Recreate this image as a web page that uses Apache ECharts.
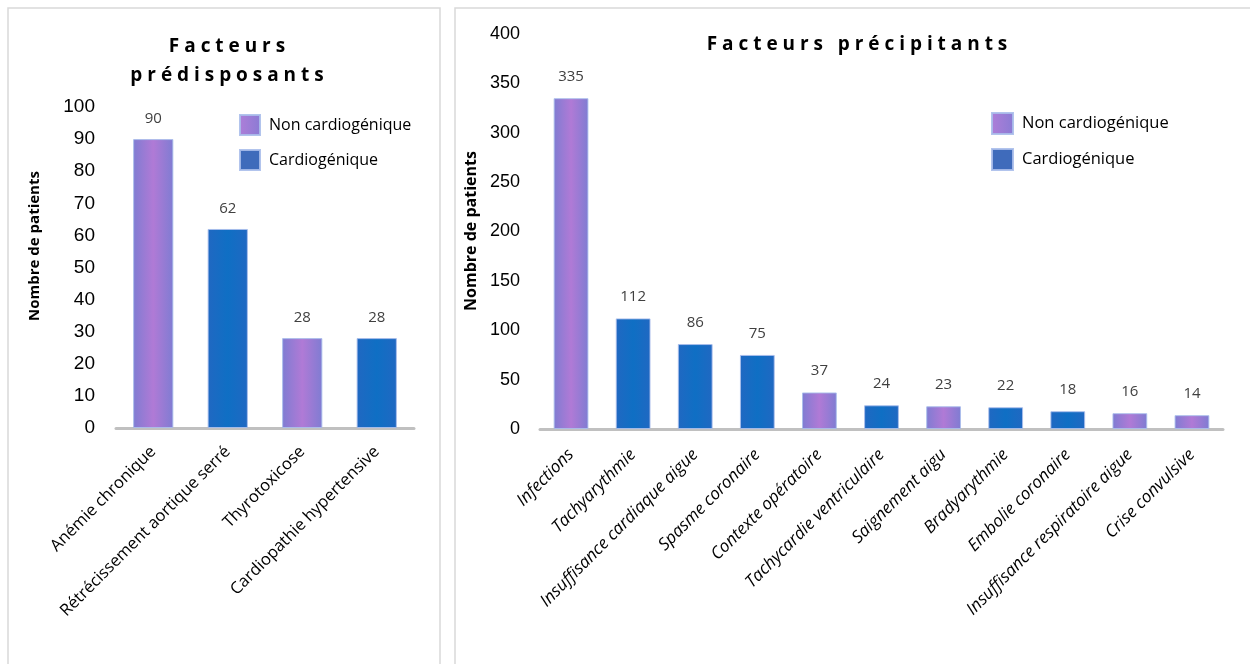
<!DOCTYPE html>
<html>
<head>
<meta charset="utf-8">
<script src="https://cdn.jsdelivr.net/npm/echarts@6/dist/echarts.min.js"></script>
<style>
html,body{margin:0;padding:0;background:#fff;}
#c{width:1250px;height:664px;}
</style>
</head>
<body>
<div id="c"></div>
<script>
// ---- Data ----
const leftCategories = ['Anémie chronique', 'Rétrécissement aortique serré', 'Thyrotoxicose', 'Cardiopathie hypertensive'];
const leftValues = [90, 62, 28, 28];
const leftTypes = ['N', 'C', 'N', 'C'];

const rightCategories = ['Infections', 'Tachyarythmie', 'Insuffisance cardiaque aigue', 'Spasme coronaire', 'Contexte opératoire', 'Tachycardie ventriculaire', 'Saignement aigu', 'Bradyarythmie', 'Embolie coronaire', 'Insuffisance respiratoire aigue', 'Crise convulsive'];
const rightValues = [335, 112, 86, 75, 37, 24, 23, 22, 18, 16, 14];
const rightTypes = ['N', 'C', 'C', 'C', 'N', 'C', 'N', 'C', 'C', 'N', 'N'];

const leftTicks = [0, 10, 20, 30, 40, 50, 60, 70, 80, 90, 100];
const rightTicks = [0, 50, 100, 150, 200, 250, 300, 350, 400];

const seriesNames = ['Non cardiogénique', 'Cardiogénique'];
const yName = 'Nombre de patients';

// ---- Styles ----
const purpleGrad = new echarts.graphic.LinearGradient(0, 0, 1, 0, [
  {offset: 0, color: '#7f7cd2'},
  {offset: 0.5, color: '#b07ad6'},
  {offset: 1, color: '#7f7cd2'}
]);
const blueGrad = new echarts.graphic.LinearGradient(0, 0, 1, 0, [
  {offset: 0, color: '#2068c2'},
  {offset: 0.5, color: '#0f6fc4'},
  {offset: 1, color: '#2068c2'}
]);
const legendPurple = new echarts.graphic.LinearGradient(0, 0, 1, 0, [
  {offset: 0, color: '#ae7ed8'},
  {offset: 1, color: '#8a7bd4'}
]);

function spaced(s){ return s.split(' ').map(w => w.split('').join(' ')).join('   '); }
function pick(values, types, t){ return values.map((v,i) => types[i] === t ? v : '-'); }

const textFont = 'Open Sans, DejaVu Sans, sans-serif';
const numFont = 'Liberation Sans, Arial, sans-serif';

function makeSeries(idx, values, types, dist){
  return [['N', purpleGrad, seriesNames[0]], ['C', blueGrad, seriesNames[1]]].map(([t, col, name]) => ({
    type: 'bar', name: name,
    xAxisIndex: idx, yAxisIndex: idx,
    data: pick(values, types, t),
    barWidth: idx === 0 ? '54%' : '56%',
    barGap: '-100%',
    itemStyle: {color: col, borderColor: 'rgba(170,190,235,0.9)', borderWidth: 1},
    label: {show: true, position: 'top', distance: dist, color: '#404040', fontSize: 15, fontFamily: textFont},
    emphasis: {disabled: true}
  }));
}

const legendData = [{name: seriesNames[0], itemStyle: {color: legendPurple}}, {name: seriesNames[1], itemStyle: {color: '#3f6bbb'}}];

const chart = echarts.init(document.getElementById('c'));
chart.setOption({
  backgroundColor: '#fff',
  animation: false,
  graphic: [
    {type: 'rect', shape: {x: 8, y: 8, width: 432, height: 700}, style: {fill: 'none', stroke: '#d9d9d9', lineWidth: 1.5}, silent: true},
    {type: 'rect', shape: {x: 455, y: 8, width: 800, height: 700}, style: {fill: 'none', stroke: '#d9d9d9', lineWidth: 1.5}, silent: true},
    {type: 'text', x: 35, y: 246, rotation: Math.PI / 2, silent: true,
     style: {text: yName, fontSize: 15, fontWeight: 'bold', fill: '#000', fontFamily: textFont, align: 'center', verticalAlign: 'middle'}},
    {type: 'text', x: 471, y: 231, rotation: Math.PI / 2, silent: true,
     style: {text: yName, fontSize: 16, fontWeight: 'bold', fill: '#000', fontFamily: textFont, align: 'center', verticalAlign: 'middle'}}
  ],
  title: [
    {text: spaced('Facteurs') + '\n' + spaced('prédisposants'), left: 222, top: 27, textAlign: 'center',
     textStyle: {fontSize: 19, fontWeight: 'bold', color: '#000', fontFamily: textFont, lineHeight: 29}},
    {text: spaced('Facteurs précipitants'), left: 852, top: 30, textAlign: 'center',
     textStyle: {fontSize: 19, fontWeight: 'bold', color: '#000', fontFamily: textFont}}
  ],
  legend: [
    {orient: 'vertical', left: 239, top: 114, padding: 0, itemWidth: 20, itemHeight: 20, itemGap: 13, icon: 'rect',
     textStyle: {fontSize: 16, color: '#000', fontFamily: textFont, padding: [0, 0, 0, 4]}, data: legendData, selectedMode: false},
    {orient: 'vertical', left: 991, top: 112, padding: 0, itemWidth: 21, itemHeight: 21, itemGap: 13, icon: 'rect',
     textStyle: {fontSize: 16.5, color: '#000', fontFamily: textFont, padding: [0, 0, 0, 4]}, data: legendData, selectedMode: false}
  ],
  grid: [
    {left: 116, top: 107, width: 298, height: 321},
    {left: 540, top: 34, width: 683, height: 395}
  ],
  xAxis: [
    {type: 'category', gridIndex: 0, data: leftCategories,
     axisLine: {lineStyle: {color: '#c0c0c0', width: 3}}, axisTick: {show: false},
     axisLabel: {rotate: 45, fontSize: 16.5, color: '#000', fontFamily: textFont, margin: 21, interval: 0}},
    {type: 'category', gridIndex: 1, data: rightCategories,
     axisLine: {lineStyle: {color: '#c0c0c0', width: 3}}, axisTick: {show: false},
     axisLabel: {rotate: 45, fontSize: 17, fontStyle: 'italic', color: '#000', fontFamily: textFont, margin: 23, interval: 0}}
  ],
  yAxis: [
    {type: 'value', gridIndex: 0, min: leftTicks[0], max: leftTicks[leftTicks.length-1], interval: leftTicks[1]-leftTicks[0],
     splitLine: {show: false}, axisLine: {show: false}, axisTick: {show: false},
     axisLabel: {fontSize: 19, color: '#000', fontFamily: numFont, margin: 21}},
    {type: 'value', gridIndex: 1, min: rightTicks[0], max: rightTicks[rightTicks.length-1], interval: rightTicks[1]-rightTicks[0],
     splitLine: {show: false}, axisLine: {show: false}, axisTick: {show: false},
     axisLabel: {fontSize: 18, color: '#000', fontFamily: numFont, margin: 20}}
  ],
  series: [].concat(makeSeries(0, leftValues, leftTypes, 13), makeSeries(1, rightValues, rightTypes, 14))
});
</script>
</body>
</html>
